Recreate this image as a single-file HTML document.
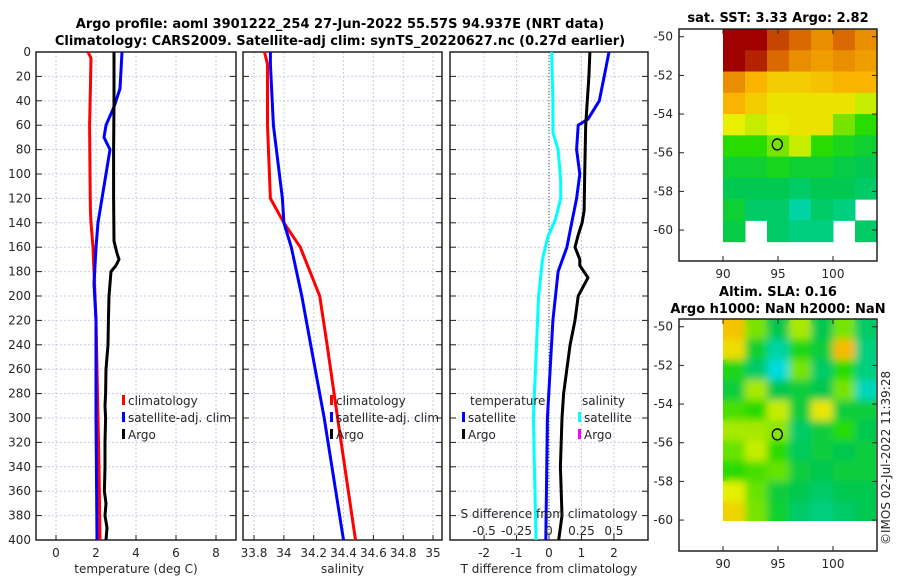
<!DOCTYPE html>
<html><head><meta charset="utf-8"><style>
body{margin:0;background:#fff}
svg{display:block;font-family:"DejaVu Sans","Liberation Sans",sans-serif}
.t{font-size:12px;fill:#262626}
.ti{font-size:13px;font-weight:bold;fill:#000}
</style></head><body>
<svg id="chart" width="900" height="580" viewBox="0 0 900 580">
<defs>
<filter id="blur" x="-0.1" y="-0.1" width="1.2" height="1.2"><feGaussianBlur stdDeviation="4"/></filter>
<clipPath id="slaclip"><rect x="723" y="319" width="153" height="202"/></clipPath>
</defs>
<text class="ti" x="340" y="28" text-anchor="middle">Argo profile: aoml 3901222_254 27-Jun-2022 55.57S 94.937E (NRT data)</text>
<text class="ti" x="340" y="45" text-anchor="middle">Climatology: CARS2009. Satellite-adj clim: synTS_20220627.nc (0.27d earlier)</text>
<text class="ti" x="778" y="22" text-anchor="middle">sat. SST: 3.33 Argo: 2.82</text>
<text class="ti" x="778" y="296" text-anchor="middle">Altim. SLA: 0.16</text>
<text class="ti" x="778" y="313" text-anchor="middle">Argo h1000: NaN h2000: NaN</text>
<text class="t" transform="translate(890,545) rotate(-90)">©IMOS 02-Jul-2022 11:39:28</text>
<g id="layer"></g>
</svg>
<script>
// depths (dbar)
const depthTicks=[0,20,40,60,80,100,120,140,160,180,200,220,240,260,280,300,320,340,360,380,400];
// Panel 1: temperature
const tDepth=[0,5,30,60,100,130,140,150,160,180,200,220,260,300,340,400];
const tClim=[1.6,1.75,1.72,1.68,1.7,1.72,1.75,1.8,1.85,1.9,1.95,2.0,2.05,2.1,2.15,2.2];
const tSatDepth=[0,30,45,60,70,80,100,120,140,160,190,220,300,400];
const tSat=[3.3,3.2,2.9,2.5,2.4,2.7,2.5,2.3,2.1,2.0,1.9,2.0,2.0,2.05];
const argoDepth=[0,40,80,120,155,165,170,175,180,190,200,220,240,250,260,280,290,300,320,340,360,370,380,390,400];
const tArgo=[2.9,2.9,2.88,2.88,2.9,3.05,3.15,3.0,2.75,2.7,2.65,2.62,2.6,2.55,2.5,2.48,2.45,2.48,2.45,2.45,2.42,2.5,2.45,2.55,2.5];
// Panel 2: salinity
const sDepth=[0,10,60,120,140,160,200,240,300,400];
const sClim=[33.87,33.89,33.89,33.91,34.0,34.11,34.24,34.29,34.36,34.48];
const sSat=[33.91,33.91,33.93,33.99,34.0,34.05,34.12,34.18,34.27,34.4];
// Panel 3: differences
const dTArgoDepth=[0,20,60,100,130,140,150,160,170,175,185,200,220,240,280,300,340,380,400];
const dTArgo=[1.26,1.23,1.13,1.1,1.08,1.02,0.9,0.8,0.95,0.95,1.2,0.9,0.8,0.65,0.45,0.4,0.35,0.4,0.3];
const dTSatDepth=[0,20,40,55,60,80,100,120,140,160,180,220,300,400];
const dTSat=[1.85,1.7,1.55,1.2,0.9,0.85,0.95,0.85,0.7,0.55,0.28,0.12,-0.05,-0.1];
const dSSatDepth=[0,40,66,80,105,120,137,152,170,200,300,400];
const dSSat=[0.02,0.03,0.03,0.07,0.09,0.09,0.05,-0.01,-0.05,-0.08,-0.12,-0.1];
// SST map (rows north->south, 7 cols 90..104E)
const sstGrid=[
[1,1,0.9,0.85,0.8,0.85,0.8],
[1,0.95,0.85,0.8,0.78,0.8,0.78],
[0.8,0.75,0.7,0.7,0.72,0.75,0.75],
[0.75,0.7,0.65,0.65,0.65,0.65,0.6],
[0.62,0.6,0.63,0.65,0.65,0.55,0.5],
[0.5,0.5,0.55,0.6,0.5,0.47,0.45],
[0.45,0.45,0.47,0.45,0.45,0.43,0.42],
[0.42,0.42,0.42,0.4,0.42,0.42,0.4],
[0.45,0.4,0.4,0.35,0.4,0.38,null],
[0.43,null,0.4,0.38,0.38,null,0.4]];
const slaGrid=[
[0.72,0.55,0.42,0.58,0.42,0.55,0.4],
[0.66,0.45,0.35,0.48,0.44,0.74,0.38],
[0.48,0.4,0.3,0.55,0.4,0.5,0.38],
[0.44,0.58,0.42,0.44,0.42,0.55,0.33],
[0.52,0.5,0.6,0.44,0.64,0.44,0.44],
[0.58,0.58,0.56,0.4,0.44,0.5,0.42],
[0.54,0.6,0.5,0.41,0.44,0.42,0.44],
[0.5,0.52,0.54,0.44,0.42,0.44,0.44],
[0.62,0.54,0.44,0.42,0.4,0.42,0.42],
[0.68,0.55,0.45,0.4,0.38,0.4,0.42]];
const lonTicks=[90,95,100];
const latTicks=[-50,-52,-54,-56,-58,-60];

const NS='http://www.w3.org/2000/svg';
const L=document.getElementById('layer');
function mk(tag,at,parent){const e=document.createElementNS(NS,tag);for(const k in at)e.setAttribute(k,at[k]);(parent||L).appendChild(e);return e;}
function txt(x,y,s,anchor,cls){const e=mk('text',{x:x,y:y,'text-anchor':anchor||'middle',class:cls||'t'});e.textContent=s;return e;}
const Y0=52,Y1=540;
const yD=d=>Y0+(Y1-Y0)*d/400;

function panel(name,x0,x1,vmin,vmax,xticks,xlabels,title,showY){
  const fx=v=>x0+(x1-x0)*(v-vmin)/(vmax-vmin);
  const g=mk('g',{});
  
  
  xticks.forEach((v,i)=>{const X=fx(v);
    const l=mk('line',{x1:X,x2:X,y1:Y0,y2:Y1,stroke:'#c6cbe6','stroke-width':1,'stroke-dasharray':'2,2'},g);
    
    mk('line',{x1:X,x2:X,y1:Y1,y2:Y1-5,stroke:'#222'},g);
    const t=txt(X,557,xlabels[i]);g.appendChild(t);
    
  });
  depthTicks.forEach(d=>{const Y=yD(d);
    mk('line',{x1:x0,x2:x1,y1:Y,y2:Y,stroke:'#c6cbe6','stroke-dasharray':'2,2'},g);
    mk('line',{x1:x0,x2:x0+6,y1:Y,y2:Y,stroke:'#222'},g);
    mk('line',{x1:x1,x2:x1-6,y1:Y,y2:Y,stroke:'#222'},g);
    if(showY){const t=txt(x0-5,Y+4,String(d),'end');g.appendChild(t);
      }
  });
  const fr=mk('rect',{x:x0,y:Y0,width:x1-x0,height:Y1-Y0,fill:'none',stroke:'#222','stroke-width':1.5},g);
  
  const tt=txt((x0+x1)/2,573,title);g.appendChild(tt);
  
  return fx;
}
function line(fx,vals,depths,color,name){
  const p=vals.map((v,i)=>fx(v).toFixed(1)+','+yD(depths[i]).toFixed(1)).join(' ');
  const e=mk('polyline',{points:p,fill:'none',stroke:color,'stroke-width':3,'stroke-linejoin':'round'});
  
  
}
function legend(x,y,color,label,name){
  if(color){const m=mk('rect',{x:x,y:y-10,width:3,height:10,fill:color});
    }
  const t=txt(x+(color?6:0),y,label,'start');
  
}

// Panel 1
const f1=panel('temperature-panel',36,236,-1,9,[0,2,4,6,8],['0','2','4','6','8'],'temperature (deg C)',true);
line(f1,tClim,tDepth,'#ff0000','temp-climatology-line');
line(f1,tSat,tSatDepth,'#0000ff','temp-satellite-line');
line(f1,tArgo,argoDepth,'#000000','temp-argo-line');
legend(122,405,'#ff0000','climatology','legend-climatology');
legend(122,422,'#0000ff','satellite-adj. clim','legend-satellite');
legend(122,439,'#000000','Argo','legend-argo');

// Panel 2
const f2=panel('salinity-panel',243,442,33.726,35.06,[33.8,34,34.2,34.4,34.6,34.8,35],['33.8','34','34.2','34.4','34.6','34.8','35'],'salinity',false);
line(f2,sClim,sDepth,'#ff0000','sal-climatology-line');
line(f2,sSat,sDepth,'#0000ff','sal-satellite-line');
legend(330,405,'#ff0000','climatology','legend2-climatology');
legend(330,422,'#0000ff','satellite-adj. clim','legend2-satellite');
legend(330,439,'#000000','Argo','legend2-argo');

// Panel 3
const f3=panel('difference-panel',450,648,-3.05,3.05,[-2,-1,0,1,2],['-2','-1','0','1','2'],'T difference from climatology',false);
const zl=mk('line',{x1:f3(0),x2:f3(0),y1:Y0,y2:Y1,stroke:'#444','stroke-dasharray':'1,2'});

const fS=v=>f3(v*4);
line(fS,dSSat,dSSatDepth,'#00ffff','sal-diff-satellite-line');
line(f3,dTSat,dTSatDepth,'#0000ff','temp-diff-satellite-line');
line(f3,dTArgo,dTArgoDepth,'#000000','temp-diff-argo-line');
legend(470,405,null,'temperature','legend3-temperature');
legend(462,422,'#0000ff','satellite','legend3-temp-satellite');
legend(462,439,'#000000','Argo','legend3-temp-argo');
legend(582,405,null,'salinity','legend3-salinity');
legend(578,422,'#00ffff','satellite','legend3-sal-satellite');
legend(578,439,'#ff00ff','Argo','legend3-sal-argo');
const sat=txt(549,518,'S difference from climatology');

[-0.5,-0.25,0,0.25,0.5].forEach(v=>{const t=txt(fS(v),535,String(v));
  });

// Maps
function cmap(v){
  const stops=[[0,[0,120,255]],[0.3,[0,220,220]],[0.42,[0,200,80]],[0.5,[40,220,0]],[0.62,[230,240,0]],[0.75,[250,180,0]],[0.87,[210,90,0]],[1,[160,0,0]]];
  for(let i=1;i<stops.length;i++){if(v<=stops[i][0]){const a=stops[i-1],b=stops[i],t=(v-a[0])/(b[0]-a[0]);
    return 'rgb('+a[1].map((c,k)=>Math.round(c+(b[1][k]-c)*t)).join(',')+')';}}
  return 'rgb(160,0,0)';
}
function map(name,fy,fb,grid,latBottom,smooth){
  const fx=lon=>679+198*(lon-86)/18;
  const fyl=lat=>fy+(fb-fy)*(-49.6-lat)/12;
  const g=mk('g',{});
  
  
  const rows=grid.length,cols=grid[0].length;
  const cw=(fx(104)-fx(90))/cols, top=fy, rh=(fyl(latBottom)-top)/rows;
  const layers=smooth?[null,'url(#blur)']:[null];
  layers.forEach(f=>{
    const host=smooth?mk('g',{'clip-path':'url(#slaclip)'},g):g;
    const cells=mk('g',{},host);
    if(f)cells.setAttribute('filter',f);
    grid.forEach((r,i)=>r.forEach((v,j)=>{if(v===null)return;
      const c=mk('rect',{x:fx(90)+j*cw,y:top+i*rh,width:cw+0.5,height:rh+0.5,fill:cmap(v)},cells);
      }));
  });
  mk('rect',{x:679,y:fy,width:198,height:fb-fy,fill:'none',stroke:'#222','stroke-width':1.5},g);
  lonTicks.forEach(l=>{const X=fx(l);mk('line',{x1:X,x2:X,y1:fb,y2:fb-5,stroke:'#222'},g);mk('line',{x1:X,x2:X,y1:fy,y2:fy+5,stroke:'#222'},g);
    const t=txt(X,fb+17,String(l));g.appendChild(t);});
  latTicks.forEach(l=>{const Y=fyl(l);mk('line',{x1:679,x2:684,y1:Y,y2:Y,stroke:'#222'},g);mk('line',{x1:877,x2:872,y1:Y,y2:Y,stroke:'#222'},g);
    const t=txt(673,Y+4,String(l),'end');g.appendChild(t);});
  const c=mk('ellipse',{cx:fx(94.937),cy:fyl(-55.57),rx:5,ry:5.5,fill:'none',stroke:'#000','stroke-width':1.3},g);
  
}
map('sst-map',29,261,sstGrid,-60.6,false);
map('sla-map',319,551,slaGrid,-60.1,true);
</script>
</body></html>
